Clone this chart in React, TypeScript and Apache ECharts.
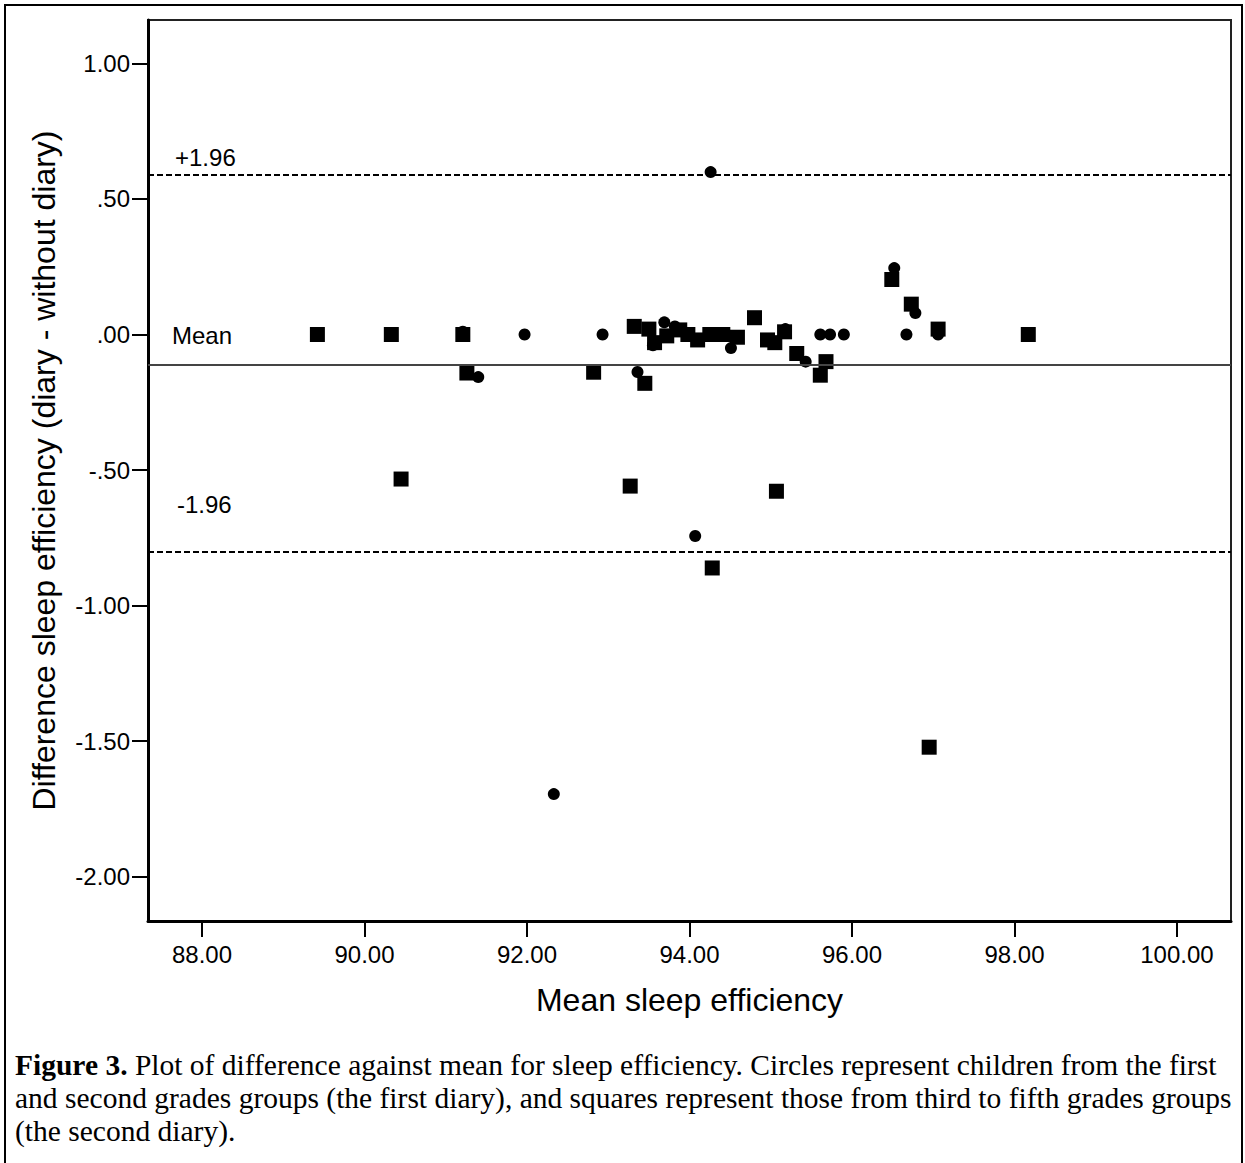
import React, { useEffect, useRef } from "react";
import * as echarts from "echarts";

// Tick values
const xTicks = [88, 90, 92, 94, 96, 98, 100];
const yTicks = [-2, -1.5, -1, -0.5, 0, 0.5, 1];

// Circles: first and second grades (first diary) [mean, difference]
const firstDiary: [number, number][] = [
  [91.21, 0.01],
  [91.97, 0.0],
  [92.93, 0.0],
  [91.4, -0.157],
  [92.33, -1.695],
  [94.07, -0.743],
  [94.26, 0.599],
  [93.36, -0.138],
  [93.69, 0.045],
  [93.55, -0.04],
  [93.82, 0.03],
  [94.51, -0.05],
  [95.18, 0.02],
  [95.43, -0.1],
  [95.61, 0.0],
  [95.73, 0.0],
  [95.9, 0.0],
  [96.52, 0.245],
  [96.78, 0.079],
  [96.67, 0.0],
  [97.06, 0.0],
];

// Squares: third to fifth grades (second diary)
const secondDiary: [number, number][] = [
  [89.42, 0.0],
  [90.33, 0.0],
  [91.21, 0.0],
  [91.26, -0.142],
  [92.82, -0.139],
  [90.45, -0.533],
  [93.27, -0.559],
  [94.28, -0.861],
  [95.07, -0.578],
  [96.95, -1.522],
  [98.17, 0.0],
  [93.32, 0.03],
  [93.5, 0.02],
  [93.57, -0.03],
  [93.72, -0.005],
  [93.88, 0.017],
  [93.98, 0.0],
  [94.1, -0.02],
  [94.25, 0.0],
  [94.41, 0.0],
  [94.59, -0.01],
  [94.8, 0.062],
  [94.96, -0.02],
  [95.05, -0.03],
  [95.17, 0.01],
  [95.32, -0.07],
  [95.61, -0.15],
  [95.68, -0.1],
  [93.45, -0.18],
  [96.49, 0.203],
  [96.73, 0.112],
  [97.06, 0.02],
];

// Agreement lines
const meanDiff = -0.11;
const upperLimit = 0.588;
const lowerLimit = -0.8;

const annotationTexts = ["+1.96", "Mean", "-1.96"];

const captionLines = [
  "{b|Figure 3.} Plot of difference against mean for sleep efficiency. Circles represent children from the first",
  "and second grades groups (the first diary), and squares represent those from third to fifth grades groups",
  "(the second diary).",
];

const fmtY = (v: number) => {
  const s = Math.abs(v).toFixed(2).replace(/^0/, "");
  return (v < 0 ? "-" : "") + s;
};

const SANS = "Liberation Sans, Arial, sans-serif";
const SERIF = "Liberation Serif, Times New Roman, serif";

export default function App() {
  const ref = useRef<HTMLDivElement>(null);

  useEffect(() => {
    if (!ref.current) return;
    const chart = echarts.init(ref.current, null, { renderer: "svg" });
    chart.setOption({
      animation: false,
      backgroundColor: "#ffffff",
      grid: {
        left: 148,
        top: 20,
        right: 14,
        bottom: 242,
        show: true,
        borderColor: "#222",
        borderWidth: 2,
        backgroundColor: "transparent",
      },
      xAxis: {
        type: "value",
        min: 87.335,
        max: 100.665,
        name: "Mean sleep efficiency",
        nameLocation: "middle",
        nameGap: 63,
        nameTextStyle: { fontFamily: SANS, fontSize: 32, color: "#000" },
        axisLine: { show: true, onZero: false, lineStyle: { color: "#000", width: 3 } },
        axisTick: { show: true, customValues: xTicks, length: 16, lineStyle: { color: "#000", width: 2 } },
        axisLabel: {
          customValues: xTicks,
          formatter: (v: number) => v.toFixed(2),
          fontFamily: SANS,
          fontSize: 24,
          color: "#000",
          margin: 21,
        },
        splitLine: { show: false },
      },
      yAxis: {
        type: "value",
        min: -2.163,
        max: 1.16,
        name: "Difference sleep efficiency (diary - without diary)",
        nameLocation: "middle",
        nameRotate: 90,
        nameGap: 88,
        nameTextStyle: { fontFamily: SANS, fontSize: 32, color: "#000" },
        axisLine: { show: true, onZero: false, lineStyle: { color: "#000", width: 3 } },
        axisTick: { show: true, customValues: yTicks, length: 16, lineStyle: { color: "#000", width: 2 } },
        axisLabel: {
          customValues: yTicks,
          formatter: (v: number) => fmtY(v),
          fontFamily: SANS,
          fontSize: 24,
          color: "#000",
          margin: 18,
        },
        splitLine: { show: false },
      },
      series: [
        {
          name: "First diary",
          type: "scatter",
          symbol: "circle",
          symbolSize: 12,
          itemStyle: { color: "#000", opacity: 1 },
          data: firstDiary,
          markLine: {
            silent: true,
            symbol: ["none", "none"],
            label: { show: false },
            data: [
              { yAxis: meanDiff, lineStyle: { type: "solid", color: "#444", width: 2 } },
              { yAxis: upperLimit, lineStyle: { type: [6, 3], color: "#000", width: 2 } },
              { yAxis: lowerLimit, lineStyle: { type: [6, 3], color: "#000", width: 2 } },
            ],
          },
        },
        {
          name: "Second diary",
          type: "scatter",
          symbol: "rect",
          symbolSize: 15,
          itemStyle: { color: "#000", opacity: 1 },
          data: secondDiary,
        },
      ],
      graphic: [
        {
          type: "rect",
          shape: { x: 5, y: 5, width: 1237, height: 1180 },
          style: { fill: "none", stroke: "#000", lineWidth: 2 },
          silent: true,
          z: 100,
        },
        {
          type: "text",
          x: 175,
          y: 157,
          style: { text: annotationTexts[0], fontFamily: SANS, fontSize: 24, fill: "#000", verticalAlign: "middle" },
        },
        {
          type: "text",
          x: 172,
          y: 335,
          style: { text: annotationTexts[1], fontFamily: SANS, fontSize: 24, fill: "#000", verticalAlign: "middle" },
        },
        {
          type: "text",
          x: 177,
          y: 504,
          style: { text: annotationTexts[2], fontFamily: SANS, fontSize: 24, fill: "#000", verticalAlign: "middle" },
        },
        ...captionLines.map((t, i) => ({
          type: "text",
          x: 15,
          y: 1065 + i * 33,
          style: {
            text: t,
            fontFamily: SERIF,
            fontSize: 29.5,
            fill: "#000",
            verticalAlign: "middle",
            rich: {
              b: { fontFamily: SERIF, fontSize: 29.5, fontWeight: "bold", fill: "#000" },
            },
          },
        })),
      ],
    });
    return () => chart.dispose();
  }, []);

  return (
    <div
      ref={ref}
      style={{ position: "absolute", left: 0, top: 0, width: 1245, height: 1163, background: "#fff" }}
    />
  );
}
